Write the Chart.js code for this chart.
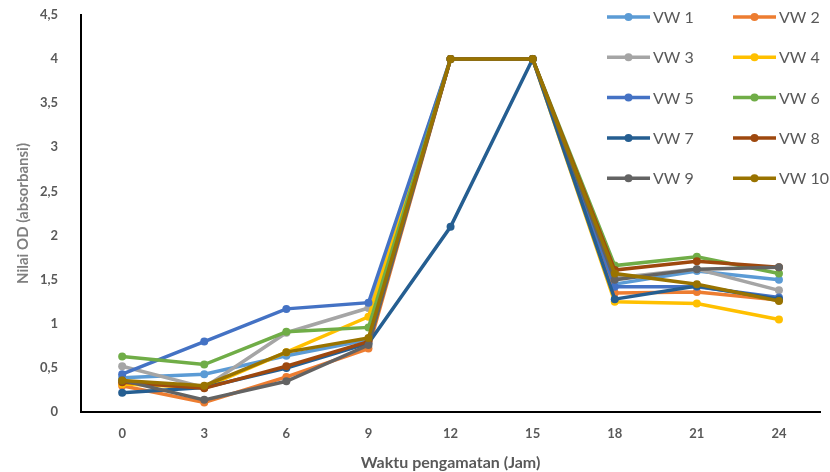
<!DOCTYPE html>
<html>
<head>
<meta charset="utf-8">
<script src="https://cdn.jsdelivr.net/npm/chart.js@4.4.1/dist/chart.umd.min.js"></script>
<style>
  html, body { margin: 0; padding: 0; background: #fff; }
  #wrap { width: 830px; height: 472px; }
</style>
</head>
<body>
<div id="wrap"><canvas id="odChart" width="830" height="472"></canvas></div>
<script>
// jam pengamatan
const hours = ['0', '3', '6', '9', '12', '15', '18', '21', '24'];

const seriesNames = ['VW 1', 'VW 2', 'VW 3', 'VW 4', 'VW 5', 'VW 6', 'VW 7', 'VW 8', 'VW 9', 'VW 10'];

// nilai OD tiap isolat
const vw1  = [0.39, 0.43, 0.64, 0.82, 4, 4, 1.45, 1.60, 1.50];
const vw2  = [0.30, 0.11, 0.40, 0.72, 4, 4, 1.35, 1.36, 1.27];
const vw3  = [0.52, 0.28, 0.90, 1.18, 4, 4, 1.52, 1.62, 1.38];
const vw4  = [0.32, 0.28, 0.68, 1.08, 4, 4, 1.25, 1.23, 1.05];
const vw5  = [0.43, 0.80, 1.17, 1.24, 4, 4, 1.42, 1.42, 1.30];
const vw6  = [0.63, 0.54, 0.91, 0.96, 4, 4, 1.66, 1.76, 1.57];
const vw7  = [0.22, 0.28, 0.50, 0.78, 2.1, 4, 1.28, 1.43, 1.28];
const vw8  = [0.34, 0.27, 0.52, 0.80, 4, 4, 1.61, 1.71, 1.64];
const vw9  = [0.36, 0.14, 0.35, 0.76, 4, 4, 1.50, 1.62, 1.64];
const vw10 = [0.36, 0.30, 0.68, 0.84, 4, 4, 1.57, 1.45, 1.26];

const allValues = [vw1, vw2, vw3, vw4, vw5, vw6, vw7, vw8, vw9, vw10];

const colors = ['#5B9BD5', '#ED7D31', '#A5A5A5', '#FFC000', '#4472C4',
                '#70AD47', '#255E91', '#9E480E', '#636363', '#997300'];

// label sumbu y pakai koma
const yTickLabels = ['0', '0,5', '1', '1,5', '2', '2,5', '3', '3,5', '4', '4,5'];

const datasets = allValues.map((vals, i) => ({
    label: seriesNames[i],
    data: vals,
    borderColor: colors[i],
    backgroundColor: colors[i],
    borderWidth: 3.5,
    pointRadius: 4,
    pointHoverRadius: 4,
    pointBorderWidth: 0,
    tension: 0,
    order: allValues.length - i   // seri terakhir di atas
}));

// legend 2 kolom di pojok kanan atas
const sideLegend = {
    id: 'sideLegend',
    afterDraw(chart) {
        const ctx = chart.ctx;
        ctx.save();
        chart.data.datasets.forEach((ds, i) => {
            const col = i % 2, row = Math.floor(i / 2);
            const x0 = 607 + col * 126;
            const y = 17 + row * 40.3;
            ctx.strokeStyle = ds.borderColor;
            ctx.lineWidth = 3.5;
            ctx.beginPath();
            ctx.moveTo(x0, y);
            ctx.lineTo(x0 + 43, y);
            ctx.stroke();
            ctx.fillStyle = ds.borderColor;
            ctx.beginPath();
            ctx.arc(x0 + 21.5, y, 4, 0, Math.PI * 2);
            ctx.fill();
            ctx.fillStyle = '#595959';
            ctx.font = '16px Lato';
            ctx.textBaseline = 'middle';
            ctx.fillText(ds.label, x0 + 46, y + 1);
        });
        ctx.restore();
    }
};

const myChart = new Chart(document.getElementById('odChart'), {
    type: 'line',
    data: { labels: hours, datasets: datasets },
    options: {
        responsive: false,
        animation: false,
        layout: { padding: { top: 0, right: 10, bottom: 0, left: 14 } },
        plugins: {
            legend: { display: false },
            tooltip: { enabled: false }
        },
        scales: {
            x: {
                offset: true,
                grid: { display: false, drawTicks: false, offset: true },
                border: { color: '#000', width: 2 },
                ticks: {
                    color: '#595959',
                    font: { family: 'Lato', size: 13, weight: 'bold' },
                    padding: 14
                },
                title: {
                    display: true,
                    text: 'Waktu pengamatan (Jam)',
                    color: '#595959',
                    font: { family: 'Lato', size: 16, weight: 'bold' },
                    padding: { top: -3, bottom: 0 }
                }
            },
            y: {
                min: 0,
                max: 4.5,
                grid: {
                    display: true,
                    drawOnChartArea: false,
                    drawTicks: true,
                    tickLength: 16,
                    tickColor: 'rgba(0,0,0,0)'
                },
                border: { color: '#000', width: 2 },
                ticks: {
                    stepSize: 0.5,
                    color: '#595959',
                    font: { family: 'Lato', size: 13, weight: 'bold' },
                    padding: 7,
                    callback: (value, index) => yTickLabels[index]
                },
                title: {
                    display: true,
                    text: 'Nilai OD (absorbansi)',
                    color: '#7F7F7F',
                    font: { family: 'Lato', size: 15, weight: 'bold' },
                    padding: { top: 0, bottom: 1 }
                }
            }
        }
    },
    plugins: [sideLegend]
});
</script>
</body>
</html>
